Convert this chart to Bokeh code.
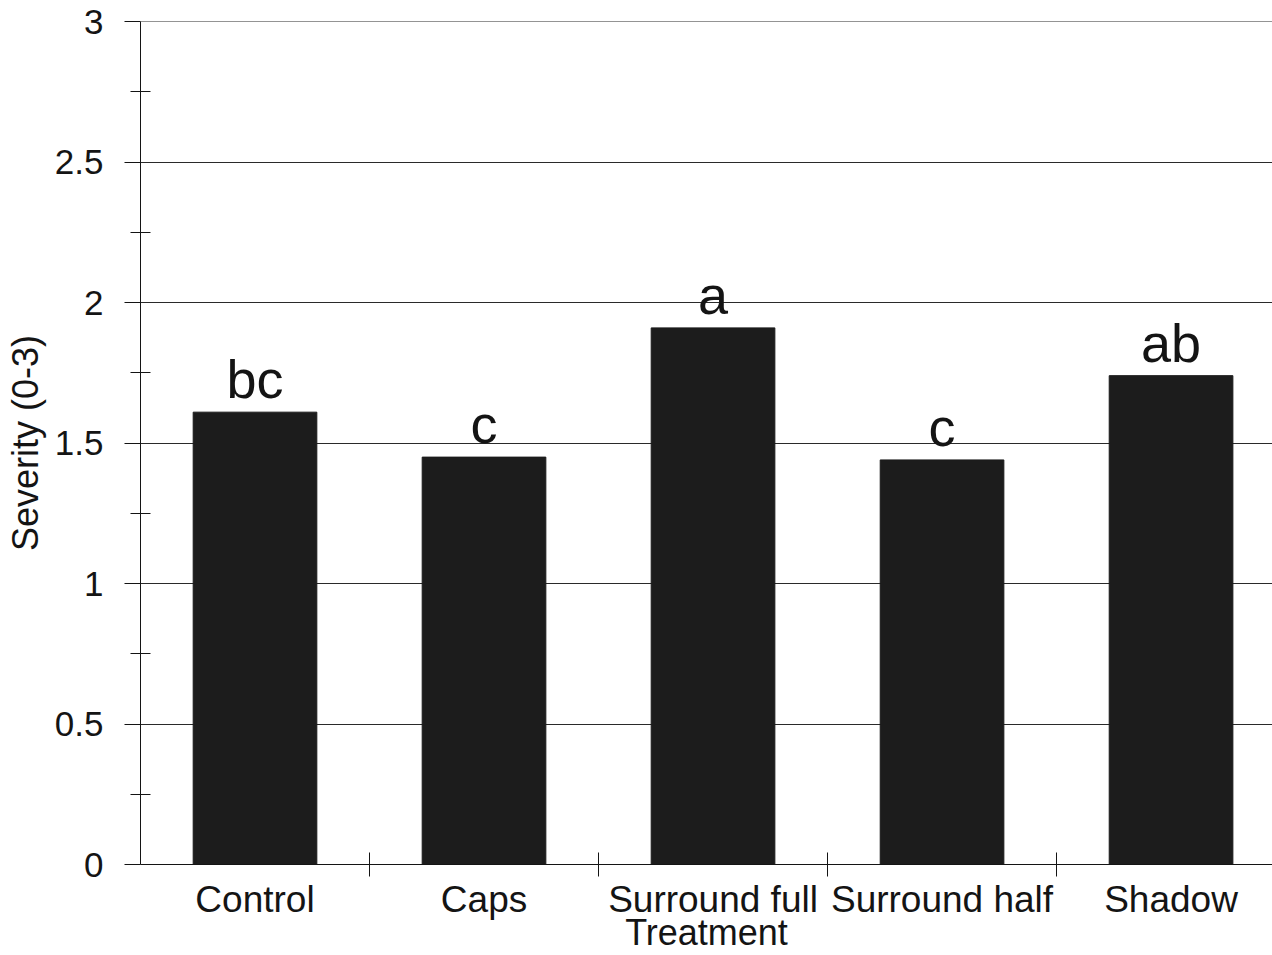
import numpy as np
from bokeh.plotting import figure
from bokeh.models import ColumnDataSource, FixedTicker, Range1d
from bokeh.core.properties import value
from bokeh.embed import file_html
from bokeh.resources import INLINE

# Mean disease severity (0-3 scale) per treatment, with mean-separation letters
treatments = ["Control", "Caps", "Surround full", "Surround half", "Shadow"]
severity = [1.61, 1.45, 1.91, 1.44, 1.74]
letters = ["bc", "c", "a", "c", "ab"]

y_major = [0, 0.5, 1, 1.5, 2, 2.5, 3]
y_minor = [0.25, 0.75, 1.25, 1.75, 2.25, 2.75]

FONT = "Liberation Sans"
INK = "#141414"

pos = list(np.arange(len(treatments)) + 0.5)
src = ColumnDataSource(dict(x=pos, top=severity, letter=letters))

p = figure(
    width=1272, height=955,
    output_backend="svg", toolbar_location=None,
    x_range=Range1d(0, 4.943), y_range=Range1d(0, 3.0005),
    min_border_left=140, min_border_right=0,
    min_border_top=21, min_border_bottom=91,
)
p.outline_line_color = None
p.background_fill_color = "white"
p.border_fill_color = "white"

p.vbar(x="x", top="top", width=0.54, bottom=0, source=src,
       fill_color="#1c1c1c", line_color="#1c1c1c")

p.text(x="x", y="top", text="letter", source=src,
       text_align="center", text_baseline="alphabetic", y_offset=-33,
       text_font=value(FONT), text_font_size="54px", text_color=INK)

# y axis: labelled ticks every 0.5, crossing minor ticks between them
yax = p.yaxis[0]
yax.ticker = FixedTicker(ticks=y_major, minor_ticks=y_minor)
yax.axis_label = "Severity (0-3)"
yax.axis_label_text_font = FONT
yax.axis_label_text_font_style = "normal"
yax.axis_label_text_font_size = "36px"
yax.axis_label_text_color = INK
yax.axis_label_standoff = 6
yax.major_label_text_font = FONT
yax.major_label_text_font_size = "35px"
yax.major_label_text_color = INK
yax.major_label_standoff = 21
yax.major_tick_in = 0
yax.major_tick_out = 16
yax.minor_tick_in = 10
yax.minor_tick_out = 10
yax.axis_line_color = INK
yax.major_tick_line_color = INK
yax.minor_tick_line_color = INK

# x axis: names at category centres, tick marks between categories
xax = p.xaxis[0]
xax.ticker = FixedTicker(ticks=pos, minor_ticks=[1, 2, 3, 4, 5])
xax.major_label_overrides = {float(x): t for x, t in zip(pos, treatments)}
xax.major_label_text_font = FONT
xax.major_label_text_font_size = "37px"
xax.major_label_text_color = INK
xax.major_label_standoff = 2
xax.major_tick_in = 0
xax.major_tick_out = 0
xax.minor_tick_in = 12
xax.minor_tick_out = 12
xax.axis_line_color = INK
xax.minor_tick_line_color = INK
xax.axis_label = "Treatment"
xax.axis_label_text_font = FONT
xax.axis_label_text_font_style = "normal"
xax.axis_label_text_font_size = "36px"
xax.axis_label_text_color = INK
xax.axis_label_standoff = -11

p.xgrid.visible = False
p.ygrid.ticker = FixedTicker(ticks=y_major)
p.ygrid.grid_line_color = "#2a2a2a"
p.ygrid.grid_line_width = 1

open("out.html", "w").write(file_html(p, INLINE))
